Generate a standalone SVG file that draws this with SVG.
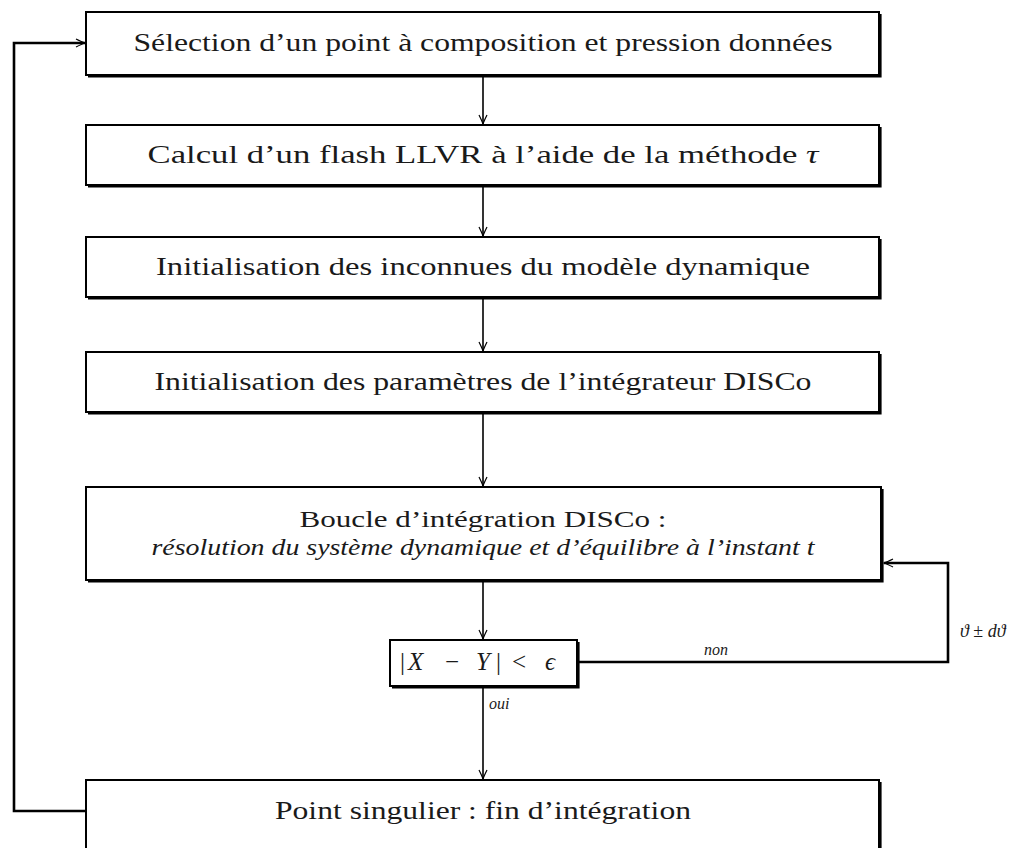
<svg xmlns="http://www.w3.org/2000/svg" width="1024" height="848" viewBox="0 0 1024 848">
<style>
.box{fill:#fff;stroke:#000;stroke-width:2}
.sh{fill:none;stroke:#000;stroke-width:2.2}
.t{font-family:"Liberation Serif","Times New Roman",serif;font-size:25px;fill:#1a1a1a;text-anchor:middle}
.s{font-size:23px}
.m{font-family:"Liberation Serif","Times New Roman",serif;font-size:25px;fill:#1a1a1a}
.it{font-style:italic}
.lbl{font-family:"Liberation Serif","Times New Roman",serif;font-size:16px;font-style:italic;fill:#1a1a1a}
.c{fill:none;stroke:#000;stroke-width:1.6}
.loop{fill:none;stroke:#000;stroke-width:2.6}
</style>
<defs>
<marker id="ah" markerUnits="userSpaceOnUse" markerWidth="14" markerHeight="12" viewBox="-11 -6 12 12" refX="0" refY="0" orient="auto">
<path d="M -9,-4 Q -3,-1 0,0 Q -3,1 -9,4" fill="none" stroke="#000" stroke-width="1.2"/>
</marker>
</defs>
<rect width="1024" height="848" fill="#fff"/>
<g id="connectors">
<path class="c" d="M483,76 V124" marker-end="url(#ah)"/>
<path class="c" d="M483,186 V236" marker-end="url(#ah)"/>
<path class="c" d="M483,298 V351" marker-end="url(#ah)"/>
<path class="c" d="M483,413 V486" marker-end="url(#ah)"/>
<path class="c" d="M483,581 V639" marker-end="url(#ah)"/>
<path class="c" d="M483,687 V779" marker-end="url(#ah)"/>
<path class="loop" d="M578,662 H948 V563 H884" marker-end="url(#ah)"/>
<path class="loop" d="M86,811 H14 V43 H85" marker-end="url(#ah)"/>
<text class="lbl" x="704" y="655">non</text>
<text class="lbl" x="489" y="709">oui</text>
<text x="960" y="637" font-family="Liberation Serif,Times New Roman,serif" font-size="18" fill="#1a1a1a"><tspan font-style="italic">ϑ</tspan> ± <tspan font-style="italic">dϑ</tspan></text>
</g>
<g id="n1">
<rect class="box" x="86" y="12" width="793" height="63"/>
<path class="sh" d="M880.5,14 V76.5 H88"/>
<text class="t" x="483" y="51" textLength="699" lengthAdjust="spacingAndGlyphs">Sélection d’un point à composition et pression données</text>
</g>
<g id="n2">
<rect class="box" x="86" y="125" width="793" height="60"/>
<path class="sh" d="M880.5,127 V186.5 H88"/>
<text class="t" x="483" y="163" textLength="671" lengthAdjust="spacingAndGlyphs">Calcul d’un flash LLVR à l’aide de la méthode <tspan class="it">τ</tspan></text>
</g>
<g id="n3">
<rect class="box" x="86" y="237" width="793" height="60"/>
<path class="sh" d="M880.5,239 V298.5 H88"/>
<text class="t" x="483" y="275" textLength="654" lengthAdjust="spacingAndGlyphs">Initialisation des inconnues du modèle dynamique</text>
</g>
<g id="n4">
<rect class="box" x="86" y="352" width="793" height="60"/>
<path class="sh" d="M880.5,354 V413.5 H88"/>
<text class="t" x="483" y="390" textLength="657" lengthAdjust="spacingAndGlyphs">Initialisation des paramètres de l’intégrateur DISCo</text>
</g>
<g id="n5">
<rect class="box" x="86" y="487" width="795" height="93"/>
<path class="sh" d="M882.5,489 V581.5 H88"/>
<text class="t s" x="483" y="527" textLength="367" lengthAdjust="spacingAndGlyphs">Boucle d’intégration DISCo :</text>
<text class="t s it" x="483" y="555" textLength="663" lengthAdjust="spacingAndGlyphs">résolution du système dynamique et d’équilibre à l’instant t</text>
</g>
<g id="n6">
<rect class="box" x="390" y="640" width="187" height="46"/>
<path class="sh" d="M578.5,642 V687.5 H392"/>
<text class="m" y="670"><tspan x="400">|</tspan><tspan class="it" x="408">X</tspan><tspan x="445">−</tspan><tspan class="it" x="476">Y</tspan><tspan x="496">|</tspan><tspan x="512">&lt;</tspan><tspan class="it" x="545">ϵ</tspan></text>
</g>
<g id="n7">
<rect class="box" x="86" y="780" width="793" height="80"/>
<path class="sh" d="M880.5,782 V862"/>
<text class="t" x="483" y="819" textLength="416" lengthAdjust="spacingAndGlyphs">Point singulier : fin d’intégration</text>
</g>
</svg>
